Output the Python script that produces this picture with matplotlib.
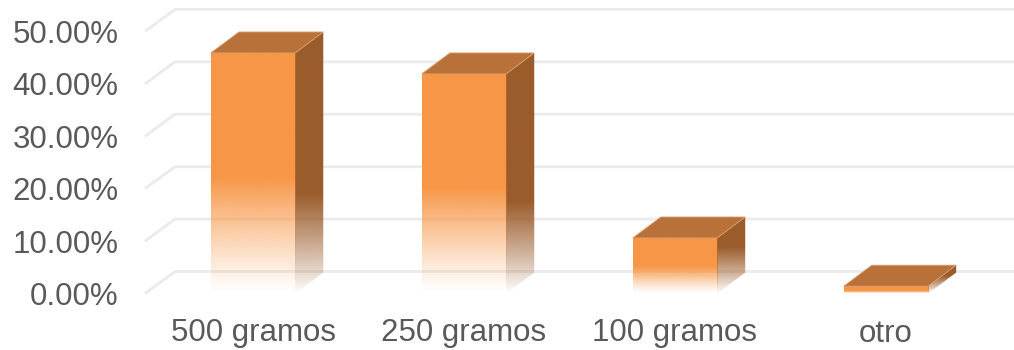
import numpy as np
import matplotlib
matplotlib.use('Agg')
import matplotlib.pyplot as plt
from matplotlib.patches import Polygon
import matplotlib.colors as col

# datos
categorias = ['500 gramos', '250 gramos', '100 gramos', 'otro']
porcentajes = [45.9, 41.9, 10.6, 1.4]
ticks = [0, 10, 20, 30, 40, 50]
tick_labels = ['{0:.2f}%'.format(t) for t in ticks]

# estilo 3D (profundidad en unidades de datos)
ancho = 0.40
DX = 0.133
DY = 4.0
c_frente = '#F79646'
c_techo = '#B9713A'
c_lado = '#9B5C2B'
c_grid = '#EBEBEB'
c_texto = '#595959'
x_izq = -0.512

plt.rcParams['font.family'] = ['Liberation Sans', 'DejaVu Sans']

fig = plt.figure(figsize=(10.14, 3.5), dpi=100, facecolor='w')
ax = fig.add_axes([145/1014, 56.5/350, (1014-145)/1014, 293.5/350])
xmax = 3.607
ymax = 56.0


def degradado(color, inicio, n=200, pot=1.0):
    # columna RGBA: alfa 0 abajo, 1 a partir de 'inicio' (fraccion)
    rgb = col.to_rgb(color)
    t = np.linspace(0, 1, n)
    a = np.clip(t / inicio, 0, 1) ** pot
    img = np.zeros((n, 1, 4))
    img[:, 0, :3] = rgb
    img[:, 0, 3] = a
    return img


# lineas de division: pared lateral + pared del fondo
for t in ticks:
    ax.plot([x_izq, x_izq + DX * 1.07, xmax], [t, t + DY * 1.05, t + DY * 1.05],
            color=c_grid, lw=2, solid_capstyle='butt', zorder=1, clip_on=False)

for i, v in enumerate(porcentajes):
    x0 = i - ancho / 2
    x1 = i + ancho / 2
    # cara frontal con desvanecido
    fr = 0.48 if v > 5 else 0.25
    ax.imshow(degradado(c_frente, fr, pot=1.15), extent=(x0, x1, 0, v), origin='lower',
              aspect='auto', interpolation='bilinear', zorder=3)
    # cara lateral
    lado = Polygon([(x1, 0), (x1 + DX, DY), (x1 + DX, v + DY), (x1, v)],
                   closed=True, facecolor='none', edgecolor='none', transform=ax.transData)
    ax.add_patch(lado)
    la = 0.38 if v > 20 else 0.6
    im = ax.imshow(degradado(c_lado, la, pot=0.9), extent=(x1, x1 + DX, 0, v + DY),
                   origin='lower', aspect='auto', interpolation='bilinear', zorder=3)
    im.set_clip_path(lado)
    # cara superior
    techo = Polygon([(x0, v), (x1, v), (x1 + DX, v + DY), (x0 + DX, v + DY)],
                    closed=True, facecolor=c_techo, edgecolor='#D9A06E', lw=0.6, zorder=4)
    ax.add_patch(techo)

ax.set_xlim(x_izq, xmax)
ax.set_ylim(0, ymax)
ax.set_xticks(range(len(categorias)))
ax.set_xticklabels(categorias)
ax.set_yticks(ticks)
ax.set_yticklabels(tick_labels)
ax.tick_params(axis='both', length=0, labelsize=22.5, labelcolor=c_texto)
ax.tick_params(axis='x', pad=18)
ax.tick_params(axis='y', pad=19)
for s in ax.spines.values():
    s.set_visible(False)
ax.set_facecolor('none')

plt.savefig('out.png', dpi=100)
